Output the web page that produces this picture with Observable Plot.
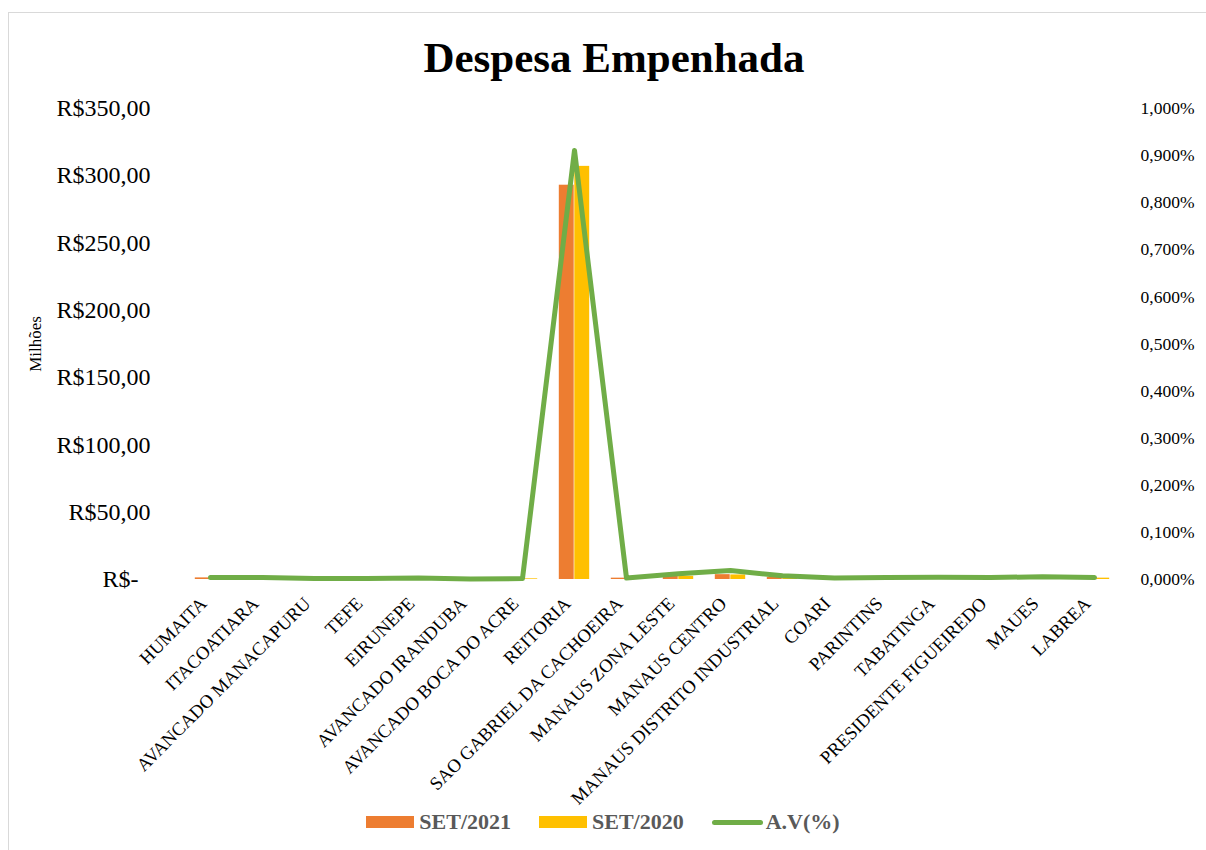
<!DOCTYPE html>
<html>
<head>
<meta charset="utf-8">
<script src="https://cdn.jsdelivr.net/npm/d3@7"></script>
<script src="https://cdn.jsdelivr.net/npm/@observablehq/plot@0.6"></script>
<style>
  html, body { margin: 0; padding: 0; background: #fff; }
  body { width: 1206px; height: 850px; position: relative; overflow: hidden; font-family: "Liberation Serif", "Times New Roman", serif; }
  #frame { position: absolute; left: 8px; top: 12px; width: 1210px; height: 850px; border: 1px solid #d9d9d9; box-sizing: border-box; }
  #title { position: absolute; left: 11px; top: 0; width: 1206px; height: 95px; text-align: center; font-weight: bold; font-size: 43px; line-height: 116px; color: #000; }
  #chart { position: absolute; left: 0; top: 95px; }
  #chart svg { overflow: visible; }
  #legend { position: absolute; left: 0; top: 804px; width: 1206px; height: 36px; display: flex; justify-content: center; align-items: center; gap: 0; font-weight: bold; font-size: 22px; color: #595959; }
  .item { display: flex; align-items: center; margin: 0 14px; }
  .sw { width: 48px; height: 12px; margin-right: 5px; }
  .ln { width: 51px; height: 5px; border-radius: 3px; margin-right: 3px; }
</style>
</head>
<body>
<div id="frame"></div>
<div id="title">Despesa Empenhada</div>
<div id="chart"></div>
<div id="legend"></div>
<script>
const categories = ["HUMAITA","ITACOATIARA","AVANCADO MANACAPURU","TEFE","EIRUNEPE","AVANCADO IRANDUBA","AVANCADO BOCA DO ACRE","REITORIA","SAO GABRIEL DA CACHOEIRA","MANAUS ZONA LESTE","MANAUS CENTRO","MANAUS DISTRITO INDUSTRIAL","COARI","PARINTINS","TABATINGA","PRESIDENTE FIGUEIREDO","MAUES","LABREA"];
// values in R$ millions
const set2021 = [1.2, 1.0, 0.6, 0.6, 0.8, 0.3, 0.5, 293, 1.0, 2.5, 3.6, 1.6, 0.8, 1.0, 1.2, 1.0, 1.4, 0.8];
const set2020 = [1.0, 1.0, 0.6, 0.6, 0.8, 0.3, 0.5, 307, 0.8, 2.4, 3.4, 1.0, 0.8, 1.0, 1.2, 1.0, 1.4, 1.0];
// A.V (%)
const av = [0.004, 0.004, 0.002, 0.002, 0.003, 0.001, 0.002, 0.911, 0.003, 0.012, 0.019, 0.008, 0.003, 0.004, 0.005, 0.004, 0.006, 0.004];
const leftTicks = [0, 50, 100, 150, 200, 250, 300, 350];
const rightTicks = [0, 0.1, 0.2, 0.3, 0.4, 0.5, 0.6, 0.7, 0.8, 0.9, 1.0];
const seriesNames = ["SET/2021", "SET/2020", "A.V(%)"];
const colors = ["#ED7D31", "#FFC000", "#70AD47"];

const yMax = 350, pMax = 1.0;
const toY = p => p / pMax * yMax;

const rows2021 = categories.map((c, i) => ({cat: c, v: set2021[i]}));
const rows2020 = categories.map((c, i) => ({cat: c, v: set2020[i]}));
const rowsAV = categories.map((c, i) => ({cat: c, p: av[i]}));

const step = (1125 - 178) / categories.length;
const barW = 15.5;
const half = step / 2;

const plot = Plot.plot({
  width: 1206,
  height: 740,
  marginLeft: 178,
  marginRight: 81,
  marginTop: 13,
  marginBottom: 256,
  style: {fontFamily: "'Liberation Serif', 'Times New Roman', serif", background: "transparent", color: "#000"},
  x: {type: "band", domain: categories, padding: 0, label: null},
  y: {domain: [0, yMax], label: null},
  marks: [
    Plot.barY(rows2021, {x: "cat", y: "v", fill: colors[0], insetLeft: half - barW, insetRight: half}),
    Plot.barY(rows2020, {x: "cat", y: "v", fill: colors[1], insetLeft: half, insetRight: half - barW}),
    Plot.line(rowsAV, {x: "cat", y: d => toY(d.p), stroke: colors[2], strokeWidth: 5, strokeLinecap: "round", strokeLinejoin: "round"}),
    Plot.axisY({ticks: leftTicks, tickSize: 0, tickPadding: 28, fontSize: 24, label: null,
      tickFormat: d => d === 0 ? "R$-\u00a0\u00a0" : "R$" + d.toFixed(2).replace(".", ",")}),
    Plot.axisY({anchor: "right", ticks: rightTicks.map(toY), tickSize: 0, tickPadding: 15, fontSize: 17.5, label: null,
      tickFormat: d => (d / yMax * pMax).toFixed(3).replace(".", ",") + "%"}),
    Plot.axisX({tickSize: 0, tickPadding: 21, dx: -7, tickRotate: -45, fontSize: 18.5, label: null}),
    Plot.text(["Milhões"], {frameAnchor: "left", textAnchor: "middle", text: d => d, rotate: -90, dx: -143, fontSize: 17, fill: "#000"})
  ]
});
document.getElementById("chart").appendChild(plot);

const legend = document.getElementById("legend");
seriesNames.forEach((name, i) => {
  const it = document.createElement("div");
  it.className = "item";
  const sw = document.createElement("div");
  sw.className = i < 2 ? "sw" : "ln";
  sw.style.background = colors[i];
  const t = document.createElement("span");
  t.textContent = name;
  it.appendChild(sw); it.appendChild(t);
  legend.appendChild(it);
});
</script>
</body>
</html>
